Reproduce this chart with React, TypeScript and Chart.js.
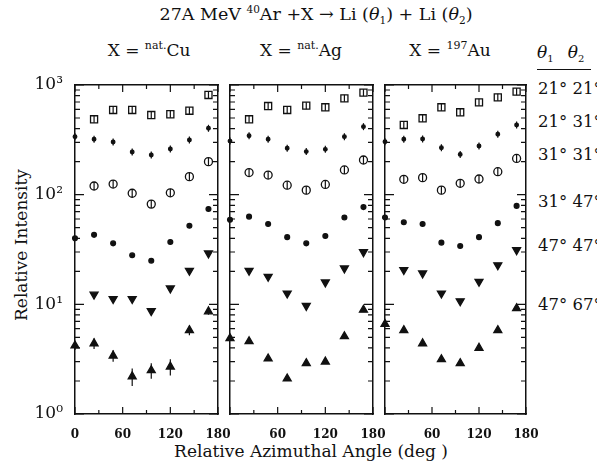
import React, { useEffect, useRef } from "react";
import { Chart, registerables } from "chart.js";

Chart.register(...registerables);

// ---------------- data ----------------
const ANGLES = [0, 24, 48, 72, 96, 120, 144, 168];
const X_TICKS = [0, 60, 120, 180];
const X_MINOR = [30, 90, 150];
const Y_DECADES = [1, 10, 100, 1000];
const Y_MULT = [1, 2, 3, 4, 5, 6, 7, 8, 9];
const SUP = ["\u2070", "\u00b9", "\u00b2", "\u00b3"];

const PAIR_LABELS = ["21° 21°", "21° 31°", "31° 31°", "31° 47°", "47° 47°", "47° 67°"];

// X = nat.Cu
const CU_21_21 = [null, 487, 592, 592, 532, 541, 583, 811];
const CU_21_31 = [338, 320, 302, 245, 230, 261, 315, 403];
const CU_31_31 = [null, 120, 125, 103, 82, 104, 146, 200];
const CU_31_47 = [40, 43, 36, 28, 25, 37, 52, 74];
const CU_47_47 = [null, 12.3, 11.2, 11.2, 8.7, 14.0, 20.3, 29.2];
const CU_47_67 = [4.2, 4.4, 3.4, 2.2, 2.5, 2.7, 5.8, 8.6];
const CU_47_67_ERR = [0.37, 0.49, 0.41, 0.4, 0.4, 0.46, 0.58, 0.56];

// X = nat.Ag
const AG_21_21 = [null, 487, 643, 592, 648, 626, 756, 851];
const AG_21_31 = [308, 345, 320, 265, 247, 259, 338, 417];
const AG_31_31 = [null, 159, 151, 122, 110, 124, 168, 207];
const AG_31_47 = [59, 63, 54, 41, 36, 42, 62, 77];
const AG_47_47 = [null, 20.3, 17.9, 12.6, 9.7, 15.9, 21.3, 30.0];
const AG_47_67 = [4.9, 4.6, 3.2, 2.1, 2.9, 3.0, 5.1, 8.9];

// X = 197Au
const AU_21_21 = [null, 432, 497, 626, 564, 695, 772, 869];
const AU_21_31 = [304, 320, 322, 268, 233, 278, 355, 432];
const AU_31_31 = [null, 138, 143, 110, 127, 139, 162, 214];
const AU_31_47 = [62, 56, 54, 36.5, 34, 41, 55, 79];
const AU_47_47 = [null, 20.6, 19.2, 12.6, 10.7, 16.1, 22.8, 31.3];
const AU_47_67 = [6.6, 5.8, 4.4, 3.15, 2.9, 4.0, 5.8, 9.2];

const PANEL_DATA = [
  [CU_21_21, CU_21_31, CU_31_31, CU_31_47, CU_47_47, CU_47_67],
  [AG_21_21, AG_21_31, AG_31_31, AG_31_47, AG_47_47, AG_47_67],
  [AU_21_21, AU_21_31, AU_31_31, AU_31_47, AU_47_47, AU_47_67],
];
const PANEL_ERRORS = [
  [null, null, null, null, null, CU_47_67_ERR],
  [null, null, null, null, null, null],
  [null, null, null, null, null, null],
];

// ---------------- styles / layout ----------------
const SERIES_STYLE = [
  { pointStyle: "rect", radius: 5, fill: false, stem: 3.5, rotation: 0 },
  { pointStyle: "circle", radius: 1.8, fill: true, stem: 3.5, rotation: 0 },
  { pointStyle: "circle", radius: 4, fill: false, stem: 4, rotation: 0 },
  { pointStyle: "circle", radius: 2.4, fill: true, stem: 0, rotation: 0 },
  { pointStyle: "triangle", radius: 4.6, fill: true, stem: 0, rotation: 180 },
  { pointStyle: "triangle", radius: 4.6, fill: true, stem: 0, rotation: 0 },
];

const PANEL_LEFT = [75, 230, 385];
const PANEL_WIDTH = [143, 143, 141];
const PLOT_TOP = 85;
const PLOT_H = 329;
const PAD_TOP = 12;
const PAD_LEFT = 6;
const PAD_RIGHT = 18;
const X_AXIS_H = 40;
const Y_LABEL_W = 60;
const SERIF = "'DejaVu Serif', 'Liberation Serif', serif";
const INK = "#111";

const PAIR_Y = [89, 122, 155, 202, 246, 305];

function drawTicks(chart: any) {
  const ctx = chart.ctx;
  const xs = chart.scales.x;
  const ys = chart.scales.y;
  const L = xs.getPixelForValue(0);
  const R = xs.getPixelForValue(180);
  const T = ys.getPixelForValue(1000);
  const B = ys.getPixelForValue(1);
  ctx.save();
  ctx.strokeStyle = INK;
  ctx.lineWidth = 1.2;
  ctx.beginPath();
  Y_DECADES.forEach((d) => {
    Y_MULT.forEach((m) => {
      const v = d * m;
      if (v > 1000) return;
      const y = ys.getPixelForValue(v);
      const len = m === 1 ? 9 : 5;
      ctx.moveTo(L, y);
      ctx.lineTo(L + len, y);
      ctx.moveTo(R, y);
      ctx.lineTo(R - len, y);
    });
  });
  [...X_TICKS, ...X_MINOR].forEach((v) => {
    const x = xs.getPixelForValue(v);
    const len = X_TICKS.indexOf(v) >= 0 ? 7 : 4;
    ctx.moveTo(x, B);
    ctx.lineTo(x, B - len);
    ctx.moveTo(x, T);
    ctx.lineTo(x, T + len);
  });
  ctx.stroke();
  ctx.restore();
}

function drawBars(chart: any) {
  const ctx = chart.ctx;
  const ys = chart.scales.y;
  ctx.save();
  ctx.strokeStyle = INK;
  ctx.lineWidth = 1.2;
  chart.data.datasets.forEach((ds: any, di: number) => {
    const meta = chart.getDatasetMeta(di);
    meta.data.forEach((el: any, i: number) => {
      const p = ds.data[i];
      const v = p ? p.y : null;
      if (v == null) return;
      const e = ds.errors ? ds.errors[i] : null;
      if (e != null) {
        ctx.beginPath();
        ctx.moveTo(el.x, ys.getPixelForValue(v - e));
        ctx.lineTo(el.x, ys.getPixelForValue(v + e));
        ctx.stroke();
      } else if (ds.stem) {
        ctx.beginPath();
        ctx.moveTo(el.x, el.y - ds.stem);
        ctx.lineTo(el.x, el.y + ds.stem);
        ctx.stroke();
      }
    });
  });
  ctx.restore();
}

// y-axis labels (10^0 ... 10^3), drawn by a Chart.js log scale
function YLabels() {
  const ref = useRef<HTMLCanvasElement>(null);
  const width = Y_LABEL_W + 2;
  const height = PAD_TOP + PLOT_H + X_AXIS_H;
  useEffect(() => {
    if (!ref.current) return;
    const chart = new Chart(ref.current, {
      type: "scatter",
      data: { datasets: [] },
      options: {
        responsive: false,
        animation: false,
        events: [],
        layout: { autoPadding: false, padding: { left: 0, right: 0, top: PAD_TOP, bottom: X_AXIS_H } },
        plugins: { legend: { display: false }, tooltip: { enabled: false } },
        scales: {
          x: { type: "linear", display: false, min: 0, max: 180 },
          y: {
            type: "logarithmic",
            min: 1,
            max: 1000,
            grid: { display: false, drawTicks: false },
            border: { display: false },
            afterBuildTicks: (s: any) => {
              s.ticks = Y_DECADES.map((v) => ({ value: v }));
            },
            afterFit: (s: any) => {
              s.width = Y_LABEL_W;
              s.paddingTop = 0;
              s.paddingBottom = 0;
            },
            ticks: {
              autoSkip: false,
              padding: 12,
              color: INK,
              font: { family: SERIF, size: 17 },
              callback: (v: any) => "10" + SUP[Math.round(Math.log10(v))],
            },
          },
        },
      } as any,
    });
    return () => chart.destroy();
  }, []);
  return (
    <canvas
      ref={ref}
      width={width}
      height={height}
      style={{ position: "absolute", display: "block", zIndex: 2, left: PANEL_LEFT[0] - Y_LABEL_W, top: PLOT_TOP - PAD_TOP, width, height }}
    />
  );
}

const BORDER = { display: true, color: INK, width: 1.5 };

function Panel({ index }: { index: number }) {
  const ref = useRef<HTMLCanvasElement>(null);
  const width = PAD_LEFT + PANEL_WIDTH[index] + PAD_RIGHT;
  const height = PAD_TOP + PLOT_H + X_AXIS_H;

  useEffect(() => {
    if (!ref.current) return;
    const datasets = PANEL_DATA[index].map((vals, si) => {
      const st = SERIES_STYLE[si];
      return {
        label: PAIR_LABELS[si],
        data: vals.map((v, i) => ({ x: ANGLES[i], y: v })),
        errors: PANEL_ERRORS[index][si],
        stem: st.stem,
        showLine: false,
        clip: false,
        pointStyle: st.pointStyle,
        pointRadius: st.radius,
        pointRotation: st.rotation,
        pointBorderWidth: 1.3,
        pointBorderColor: INK,
        pointBackgroundColor: st.fill ? INK : "rgba(0,0,0,0)",
      } as any;
    });
    const noTicks = { display: false };
    const noGrid = { display: false, drawTicks: false };
    const chart = new Chart(ref.current, {
      type: "scatter",
      data: { datasets },
      plugins: [
        {
          id: "decor" + index,
          afterDatasetsDraw(c: any) {
            drawBars(c);
            drawTicks(c);
          },
        },
      ],
      options: {
        responsive: false,
        animation: false,
        events: [],
        layout: {
          autoPadding: false,
          padding: { left: PAD_LEFT, right: PAD_RIGHT, top: PAD_TOP, bottom: 0 },
        },
        plugins: { legend: { display: false }, tooltip: { enabled: false } },
        scales: {
          x: {
            type: "linear",
            position: "bottom",
            min: 0,
            max: 180,
            grid: noGrid,
            border: BORDER,
            afterBuildTicks: (s: any) => {
              s.ticks = X_TICKS.map((v) => ({ value: v }));
            },
            afterFit: (s: any) => {
              s.height = X_AXIS_H;
              s.paddingLeft = 0;
              s.paddingRight = 0;
            },
            ticks: {
              autoSkip: false,
              maxRotation: 0,
              padding: 14,
              color: INK,
              font: { family: SERIF, size: 12, weight: "bold" },
              callback: (v: any) => (index > 0 && v === 0 ? "" : String(v)),
            },
          },
          xTop: {
            type: "linear",
            position: "top",
            min: 0,
            max: 180,
            grid: noGrid,
            border: BORDER,
            ticks: noTicks,
            afterFit: (s: any) => {
              s.height = 0;
              s.paddingLeft = 0;
              s.paddingRight = 0;
            },
          },
          y: {
            type: "logarithmic",
            position: "left",
            min: 1,
            max: 1000,
            grid: noGrid,
            border: BORDER,
            afterBuildTicks: (s: any) => {
              s.ticks = Y_DECADES.map((v) => ({ value: v }));
            },
            afterFit: (s: any) => {
              s.width = 0;
              s.paddingTop = 0;
              s.paddingBottom = 0;
            },
            ticks: noTicks,
          },
          yRight: {
            type: "logarithmic",
            position: "right",
            min: 1,
            max: 1000,
            grid: noGrid,
            border: BORDER,
            afterFit: (s: any) => {
              s.width = 0;
              s.paddingTop = 0;
              s.paddingBottom = 0;
            },
            ticks: noTicks,
          },
        },
      } as any,
    });
    return () => chart.destroy();
  }, [index]);

  return (
    <canvas
      ref={ref}
      width={width}
      height={height}
      style={{
        position: "absolute",
        display: "block",
        zIndex: 3,
        left: PANEL_LEFT[index] - PAD_LEFT,
        top: PLOT_TOP - PAD_TOP,
        width,
        height,
      }}
    />
  );
}

const abs = (s: any): any => ({ position: "absolute", whiteSpace: "nowrap", color: INK, fontFamily: SERIF, zIndex: 1, ...s });

export default function App() {
  return (
    <div style={{ position: "absolute", left: 0, top: 0, width: 597, height: 466, overflow: "hidden", background: "#fff" }}>
      <div style={abs({ left: 316, top: 3, transform: "translateX(-50%)", fontSize: 17.5 })}>
        27A MeV <sup style={{ fontSize: 10.5 }}>40</sup>Ar +X → Li (<i>θ</i><sub style={{ fontSize: 10.5 }}>1</sub>) + Li (<i>θ</i>
        <sub style={{ fontSize: 10.5 }}>2</sub>)
      </div>
      <div style={abs({ left: 149, top: 39, transform: "translateX(-50%)", fontSize: 17 })}>
        X = <sup style={{ fontSize: 11 }}>nat.</sup>Cu
      </div>
      <div style={abs({ left: 301, top: 39, transform: "translateX(-50%)", fontSize: 17 })}>
        X = <sup style={{ fontSize: 11 }}>nat.</sup>Ag
      </div>
      <div style={abs({ left: 450, top: 39, transform: "translateX(-50%)", fontSize: 17 })}>
        X = <sup style={{ fontSize: 11 }}>197</sup>Au
      </div>
      <div style={abs({ left: 537, top: 42, fontSize: 17, borderBottom: "1.5px solid #111", lineHeight: "20px", width: 54 })}>
        <i>θ</i>
        <sub style={{ fontSize: 10 }}>1</sub>
        <span style={{ display: "inline-block", width: 14 }} />
        <i>θ</i>
        <sub style={{ fontSize: 10 }}>2</sub>
      </div>
      {PAIR_LABELS.map((t, i) => (
        <div key={t} style={abs({ left: 538, top: PAIR_Y[i] - 10, fontSize: 16.5, lineHeight: "20px" })}>
          {t}
        </div>
      ))}
      <div
        style={abs({
          left: 21,
          top: 245,
          transform: "translate(-50%, -50%) rotate(-90deg)",
          fontSize: 17,
        })}
      >
        Relative Intensity
      </div>
      <div style={abs({ left: 311, top: 441, transform: "translateX(-50%)", fontSize: 17 })}>
        Relative Azimuthal Angle (deg )
      </div>
      <YLabels />
      {[0, 1, 2].map((i) => (
        <Panel key={i} index={i} />
      ))}
    </div>
  );
}
